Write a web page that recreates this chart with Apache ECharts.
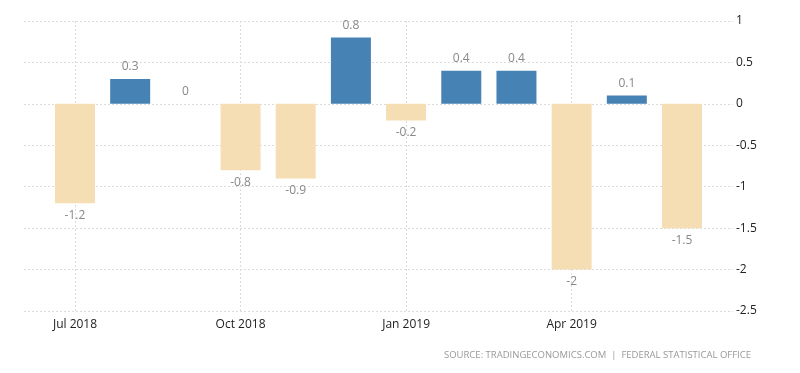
<!DOCTYPE html>
<html>
<head>
<meta charset="utf-8">
<script src="https://cdn.jsdelivr.net/npm/echarts@6/dist/echarts.min.js"></script>
<style>html,body{margin:0;padding:0;background:#fff}#c{width:800px;height:373px}</style>
</head>
<body>
<div id="c"></div>
<script>
const categories = ['Jul 2018','Aug 2018','Sep 2018','Oct 2018','Nov 2018','Dec 2018','Jan 2019','Feb 2019','Mar 2019','Apr 2019','May 2019','Jun 2019'];
const values = [-1.2, 0.3, 0, -0.8, -0.9, 0.8, -0.2, 0.4, 0.4, -2, 0.1, -1.5];
const yTicks = [-2.5, -2, -1.5, -1, -0.5, 0, 0.5, 1];
const sourceText = 'SOURCE: TRADINGECONOMICS.COM  |  FEDERAL STATISTICAL OFFICE';

const FONT = 'Open Sans';
const chart = echarts.init(document.getElementById('c'), null, {renderer:'canvas'});
const yMin = yTicks[0], yMax = yTicks[yTicks.length-1];
const dashed = {show:true, lineStyle:{color:'#dcdcdc', type:[2,2], width:1}};

const barData = values.map(v => ({
  value: v,
  itemStyle: {color: v > 0 ? '#4682b4' : '#f5deb3'},
  label: {position: v >= 0 ? 'top' : 'bottom'}
}));

chart.setOption({
  animation: false,
  backgroundColor: '#fff',
  grid: [
    {left: 24, right: 67, top: 21, bottom: 62},
    {left: 47.4, right: 90.4, top: 21, bottom: 62},
    {left: 75, right: 118, top: 21, bottom: 62}
  ],
  xAxis: [
    {gridIndex:0, type:'value', min:0, max:1, show:false},
    {gridIndex:1, type:'category', data: categories,
     axisLine:{show:false}, axisTick:{show:false}, splitLine:{show:false},
     axisLabel:{interval:2, color:'#222', fontFamily:FONT, fontSize:12, margin:8}},
    {gridIndex:2, type:'value', min:0, max:categories.length-1, interval:3,
     axisLine:{show:false}, axisTick:{show:false}, axisLabel:{show:false},
     splitLine:{show:true, showMinLine:true, showMaxLine:false, lineStyle:{color:'#dcdcdc', type:[2,2], width:1}}}
  ],
  yAxis: [
    {gridIndex:0, type:'value', position:'right', min:yMin, max:yMax, interval:0.5,
     axisLine:{show:false}, axisTick:{show:false},
     axisLabel:{color:'#222', fontFamily:FONT, fontSize:12, margin:3},
     splitLine: dashed},
    {gridIndex:1, type:'value', min:yMin, max:yMax, interval:0.5, show:false},
    {gridIndex:2, type:'value', min:yMin, max:yMax, interval:0.5, show:false}
  ],
  series: [{
    type:'bar', xAxisIndex:1, yAxisIndex:1, data: barData, barWidth:40,
    label:{show:true, color:'#888', fontFamily:FONT, fontSize:12, distance:6,
      formatter: p => String(p.value)}
  }],
  graphic: [{
    type:'text', right: 49, top: 350,
    style:{text: sourceText, fill:'#999', font:'9.5px "' + FONT + '"'}
  }]
});
</script>
</body>
</html>
